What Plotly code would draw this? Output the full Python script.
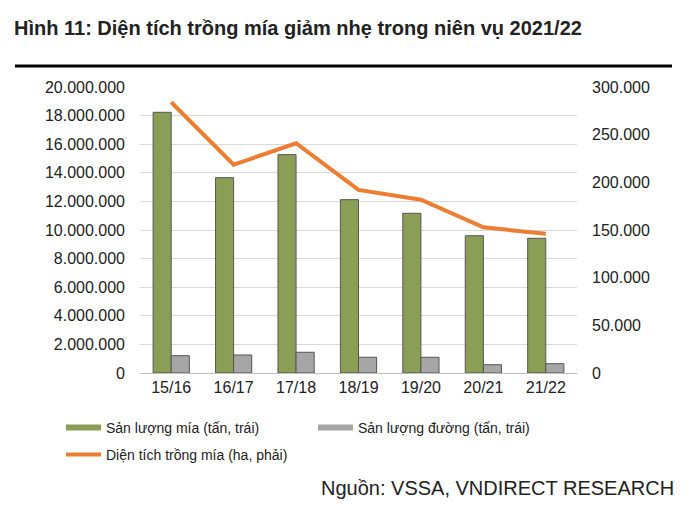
import plotly.graph_objects as go

categories = ["15/16", "16/17", "17/18", "18/19", "19/20", "20/21", "21/22"]
cane_output = [18230000, 13660000, 15270000, 12120000, 11170000, 9600000, 9420000]
sugar_output = [1210000, 1260000, 1450000, 1100000, 1100000, 580000, 650000]
cane_area = [284000, 218500, 241000, 192000, 181800, 152800, 146000]

left_ticks = list(range(0, 20000001, 2000000))
right_ticks = list(range(0, 300001, 50000))

FONT = "Liberation Sans, Arial, sans-serif"
PL, PT, PW, PH = 140, 87, 437, 286
GREEN, GRAY, ORANGE, EDGE = "#8a9f55", "#a6a6a6", "#ed7d31", "#555555"


def px_x(x):
    return (x - PL) / PW


def px_y(y):
    return (PT + PH - y) / PH


fig = go.Figure()
fig.add_trace(go.Bar(
    x=categories, y=cane_output, name="Sản lượng mía (tấn, trái)",
    marker=dict(color=GREEN, line=dict(color=EDGE, width=1)),
    yaxis="y", legendgroup="cane", showlegend=False,
))
fig.add_trace(go.Bar(
    x=categories, y=sugar_output, name="Sản lượng đường (tấn, trái)",
    marker=dict(color=GRAY, line=dict(color=EDGE, width=1)),
    yaxis="y", legendgroup="sugar", showlegend=False,
))
fig.add_trace(go.Scatter(
    x=categories, y=cane_area, name="Diện tích trồng mía (ha, phải)",
    mode="lines", line=dict(color=ORANGE, width=4),
    yaxis="y2", legend="legend3",
))
# legend swatches (wide rectangles like the original)
fig.add_trace(go.Scatter(
    x=[None], y=[None], name="Sản lượng mía (tấn, trái)", mode="lines",
    line=dict(color=GREEN, width=6), legend="legend", legendgroup="cane",
))
fig.add_trace(go.Scatter(
    x=[None], y=[None], name="Sản lượng đường (tấn, trái)", mode="lines",
    line=dict(color=GRAY, width=6), legend="legend2", legendgroup="sugar",
))

leg_common = dict(orientation="h", xanchor="left", yanchor="middle",
                  font=dict(size=14, color="#222222"), itemwidth=35,
                  bgcolor="rgba(0,0,0,0)")

fig.update_layout(
    width=700, height=506,
    margin=dict(l=PL, r=700 - PL - PW, t=PT, b=506 - PT - PH),
    paper_bgcolor="white", plot_bgcolor="white",
    separators=",.",
    barmode="group", bargap=0.42, bargroupgap=0,
    font=dict(family=FONT, size=16, color="#222222"),
    xaxis=dict(
        showgrid=False, showline=True, linecolor="#bfbfbf", linewidth=1,
        ticks="", tickfont=dict(size=16), fixedrange=True,
    ),
    yaxis=dict(
        range=[0, 20000000], tickvals=left_ticks, tickformat=",.0f",
        showgrid=True, gridcolor="#d9d9d9", gridwidth=1,
        zeroline=False, showline=False, ticks="", ticklabelstandoff=14,
        tickfont=dict(size=16),
    ),
    yaxis2=dict(
        range=[0, 300000], tickvals=right_ticks, tickformat=",.0f",
        overlaying="y", side="right", showgrid=False, zeroline=False,
        showline=False, ticks="", ticklabelstandoff=14,
        tickfont=dict(size=16),
    ),
    legend=dict(x=px_x(61), y=px_y(428), **leg_common),
    legend2=dict(x=px_x(313), y=px_y(428), **leg_common),
    legend3=dict(x=px_x(61), y=px_y(455), **leg_common),
    showlegend=True,
)

fig.add_annotation(
    text="<b>Hình 11: Diện tích trồng mía giảm nhẹ trong niên vụ 2021/22</b>",
    xref="paper", yref="paper", x=px_x(12), y=px_y(28), xanchor="left", yanchor="middle",
    showarrow=False, font=dict(size=20, color="#222222", family=FONT),
)
fig.add_shape(
    type="line", xref="paper", yref="paper",
    x0=px_x(15), x1=px_x(672), y0=px_y(66), y1=px_y(66),
    line=dict(color="black", width=3),
)
fig.add_annotation(
    text="Nguồn: VSSA, VNDIRECT RESEARCH",
    xref="paper", yref="paper", x=px_x(676), y=px_y(488), xanchor="right", yanchor="middle",
    showarrow=False, font=dict(size=20, color="#222222", family=FONT),
)

fig.write_html("out.html")
